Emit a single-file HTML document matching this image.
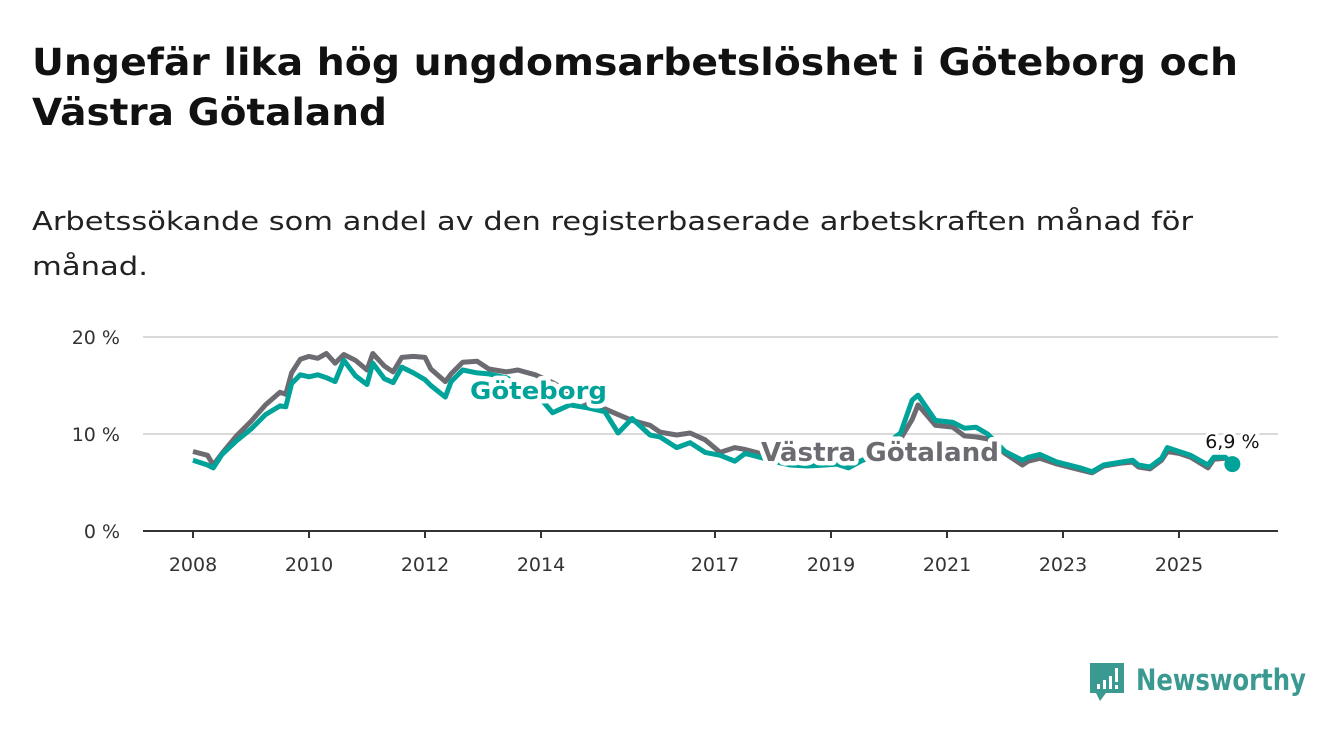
<!DOCTYPE html>
<html><head><meta charset="utf-8"><style>
html,body{margin:0;padding:0;background:#fff;}
svg{display:block;font-family:"DejaVu Sans","Liberation Sans",sans-serif;}
</style></head><body>
<svg id="chart" width="1340" height="734" viewBox="0 0 1340 734" xmlns="http://www.w3.org/2000/svg">
<text x="32" y="75" font-size="37" font-weight="bold" fill="#111" textLength="1206" lengthAdjust="spacingAndGlyphs">Ungefär lika hög ungdomsarbetslöshet i Göteborg och</text>
<text x="32" y="125" font-size="37" font-weight="bold" fill="#111" textLength="355" lengthAdjust="spacingAndGlyphs">Västra Götaland</text>
<text x="32" y="230" font-size="26" fill="#222" textLength="1161" lengthAdjust="spacingAndGlyphs">Arbetssökande som andel av den registerbaserade arbetskraften månad för</text>
<text x="32" y="275" font-size="26" fill="#222" textLength="116" lengthAdjust="spacingAndGlyphs">månad.</text>
<g id="grid"></g>
<g id="axes"></g>
<g id="series"></g>
<g id="labels"></g>
<g>
<path d="M1090 663 h34 v30 h-18 l-6 8 l-4 -8 h-6 z" fill="#3a9a92"/>
<rect x="1097" y="684" width="3" height="5" fill="#fff"/>
<rect x="1103" y="680" width="3" height="9" fill="#fff"/>
<rect x="1109" y="676" width="3" height="13" fill="#fff"/>
<rect x="1115" y="668" width="3" height="14" fill="#fff"/>
<rect x="1115" y="685" width="3" height="4" fill="#fff"/>
<text x="1136" y="690" font-size="29" fill="#3a9a92" font-weight="bold" textLength="170" lengthAdjust="spacingAndGlyphs">Newsworthy</text>
</g>
</svg>
<script>
const dates = [2008.0,2008.25,2008.35,2008.5,2008.75,2009.0,2009.25,2009.5,2009.6,2009.7,2009.85,2010.0,2010.15,2010.3,2010.45,2010.6,2010.8,2011.0,2011.1,2011.3,2011.45,2011.6,2011.8,2012.0,2012.1,2012.35,2012.45,2012.65,2012.9,2013.1,2013.4,2013.6,2013.9,2014.2,2014.5,2014.8,2015.1,2015.33,2015.57,2015.88,2016.05,2016.34,2016.57,2016.83,2017.09,2017.34,2017.52,2017.78,2018.0,2018.3,2018.6,2018.9,2019.1,2019.3,2019.7,2020.2,2020.4,2020.5,2020.8,2021.1,2021.3,2021.5,2021.7,2022.0,2022.3,2022.4,2022.6,2022.9,2023.3,2023.5,2023.7,2024.0,2024.2,2024.3,2024.5,2024.7,2024.8,2025.0,2025.2,2025.5,2025.6,2025.8,2025.92];
const goteborg = [7.3,6.8,6.5,7.9,9.3,10.5,12.0,12.9,12.8,15.2,16.1,15.9,16.1,15.8,15.4,17.6,16.0,15.1,17.3,15.7,15.3,16.9,16.3,15.6,15.0,13.8,15.4,16.6,16.3,16.2,15.8,15.2,14.3,12.2,13.0,12.7,12.3,10.1,11.6,9.9,9.7,8.6,9.1,8.1,7.8,7.2,8.0,7.6,7.2,6.8,6.7,6.8,6.9,6.5,7.8,10.1,13.5,14.0,11.4,11.2,10.6,10.7,10.0,8.2,7.3,7.6,7.9,7.1,6.5,6.1,6.8,7.1,7.3,6.8,6.6,7.5,8.6,8.2,7.8,6.8,7.6,7.6,6.9];
const vastra = [8.2,7.8,6.8,8.0,9.8,11.3,13.0,14.3,14.1,16.3,17.7,18.0,17.8,18.3,17.3,18.2,17.6,16.6,18.3,17.0,16.4,17.9,18.0,17.9,16.7,15.4,16.2,17.4,17.5,16.7,16.4,16.6,16.1,15.3,14.3,13.0,12.6,12.0,11.4,10.9,10.2,9.9,10.1,9.4,8.1,8.6,8.4,8.0,7.5,7.1,7.0,7.0,7.1,6.8,7.6,9.5,11.5,13.0,10.9,10.7,9.8,9.7,9.5,8.0,6.8,7.2,7.5,6.9,6.3,6.0,6.7,7.0,7.1,6.6,6.4,7.3,8.2,8.0,7.6,6.5,7.4,7.5,null];
const yTicks = [0,10,20];
const yTickLabels = ["0 %","10 %","20 %"];
const xTicks = [2008,2010,2012,2014,2017,2019,2021,2023,2025];
const NS='http://www.w3.org/2000/svg';
const X = t => 193 + (t-2008)*58;
const Y = v => 531 - v*9.7;
function mk(tag, attrs, parent){const e=document.createElementNS(NS,tag);for(const k in attrs)e.setAttribute(k,attrs[k]);parent.appendChild(e);return e;}
const grid=document.getElementById('grid'), axes=document.getElementById('axes'), series=document.getElementById('series'), labels=document.getElementById('labels');
yTicks.forEach((v,i)=>{
  if(v>0){const l=mk('line',{x1:143,x2:1278,y1:Y(v),y2:Y(v),stroke:'#d9d9d9','stroke-width':2},grid);
  
  }
  const t=mk('text',{x:120,y:Y(v)+7,'text-anchor':'end','font-size':19,fill:'#333'},axes);
  t.textContent=yTickLabels[i];
  
  
});
const ax=mk('line',{x1:143,x2:1278,y1:531,y2:531,stroke:'#333','stroke-width':2},axes);


xTicks.forEach(yr=>{
  const tk=mk('line',{x1:X(yr),x2:X(yr),y1:531,y2:538,stroke:'#333','stroke-width':2},axes);
  
  
  const t=mk('text',{x:X(yr),y:571,'text-anchor':'middle','font-size':19,fill:'#333'},axes);
  t.textContent=yr;
  
  
});
function pathFor(vals){let d='';vals.forEach((v,i)=>{if(v==null)return;d+=(d?'L':'M')+X(dates[i]).toFixed(1)+' '+Y(v).toFixed(1);});return d;}
const pg=mk('path',{d:pathFor(vastra),fill:'none',stroke:'#6d6b72','stroke-width':5,'stroke-linejoin':'round'},series);


const pt=mk('path',{d:pathFor(goteborg),fill:'none',stroke:'#00a399','stroke-width':5,'stroke-linejoin':'round'},series);


const last=goteborg.length-1;
const dot=mk('circle',{cx:X(dates[last]),cy:Y(goteborg[last]),r:8,fill:'#00a399'},series);


const ev=mk('text',{x:X(dates[last]),y:Y(goteborg[last])-16,'text-anchor':'middle','font-size':19,fill:'#111',stroke:'#fff','stroke-width':6,'paint-order':'stroke'},labels);
ev.textContent=goteborg[last].toFixed(1).replace('.',',')+' %';


const lg=mk('text',{x:470,y:399,'font-size':24,'font-weight':'bold',fill:'#00a399',stroke:'#fff','stroke-width':9,'stroke-linejoin':'round','paint-order':'stroke',textLength:137,lengthAdjust:'spacingAndGlyphs'},labels);
lg.textContent='Göteborg';


const lv=mk('text',{x:761,y:461,'font-size':26,'font-weight':'bold',fill:'#6d6b72',stroke:'#fff','stroke-width':9,'stroke-linejoin':'round','paint-order':'stroke',textLength:238,lengthAdjust:'spacingAndGlyphs'},labels);
lv.textContent='Västra Götaland';


</script>
</body></html>
